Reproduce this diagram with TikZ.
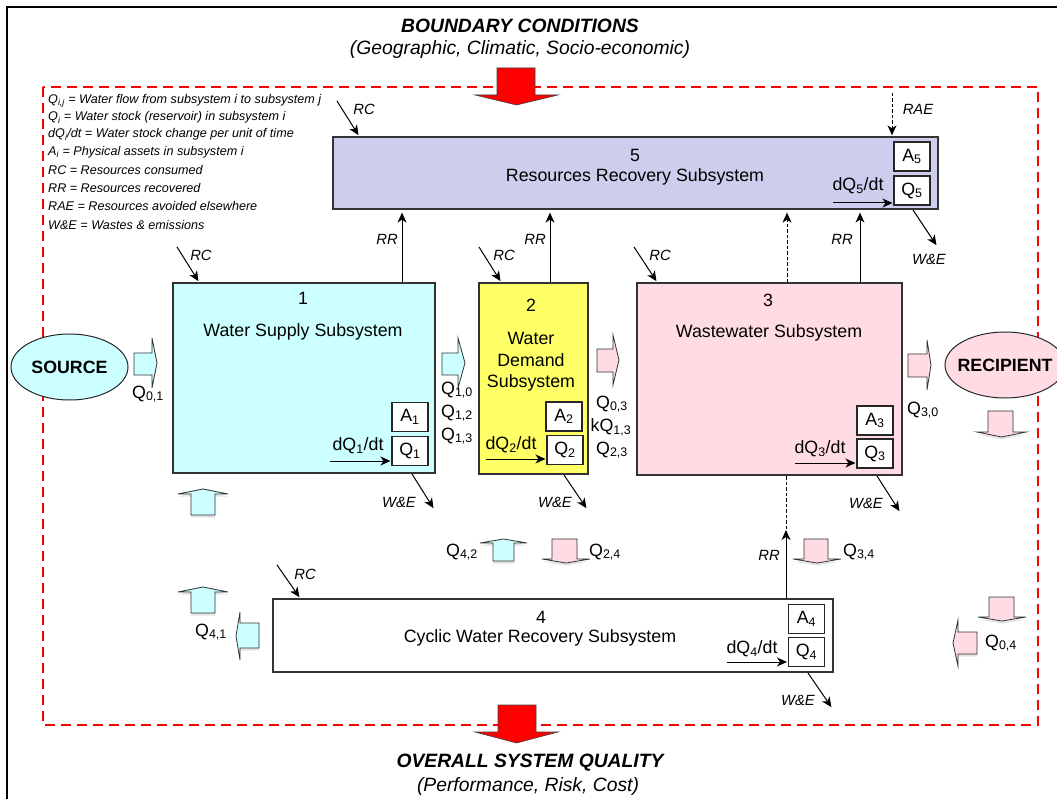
\documentclass[tikz,border=0pt]{standalone}
\usepackage{fontspec}
\setmainfont{Liberation Sans}
\usetikzlibrary{arrows.meta,shapes.geometric,shadows,calc}
\definecolor{cyanf}{HTML}{CCFFFF}
\definecolor{yelf}{HTML}{FFFF66}
\definecolor{pinkf}{HTML}{FFDCE3}
\definecolor{lavf}{HTML}{CDCDEE}
\newcommand\fs[1]{\fontsize{#1}{#1}\selectfont}
\newcommand\sbs[1]{\textsubscript{#1}}
% vertical fat arrow: fill, shaft left, shaft right, head left, head right, y base, y head, y tip
\newcommand\myVert[8]{\filldraw[fat,fill=#1,shad] (#2,#6) -- (#2,#7) -- (#4,#7) -- ({(#4+#5)/2},#8) -- (#5,#7) -- (#3,#7) -- (#3,#6) -- cycle;}
% horizontal fat arrow: fill, shaft top, shaft bottom, head top, head bottom, x base, x head, x tip
\newcommand\myHorz[8]{\filldraw[fat,fill=#1] (#6,#2) -- (#7,#2) -- (#7,#4) -- (#8,{(#4+#5)/2}) -- (#7,#5) -- (#7,#3) -- (#6,#3) -- cycle;}
\newcommand\myHorzS[8]{\filldraw[fat,fill=#1,shad] (#6,#2) -- (#7,#2) -- (#7,#4) -- (#8,{(#4+#5)/2}) -- (#7,#5) -- (#7,#3) -- (#6,#3) -- cycle;}
\begin{document}
\begin{tikzpicture}[x=1pt,y=-1pt,
 box/.style={draw=black!80,line width=1.3pt,inner sep=0pt,rectangle},
 sbox/.style={draw=black!85,line width=1.1pt,fill=white,minimum width=36pt,minimum height=29pt,inner sep=0pt,font=\fs{17.8}},
 txt/.style={inner sep=0pt,font=\fs{17.8}},
 itl/.style={inner sep=0pt,font=\fs{14.8}\itshape},
 leg/.style={inner sep=0pt,anchor=west,font=\fs{12.6}\itshape},
 ttl/.style={inner sep=0pt,font=\fs{19.3}\bfseries\itshape},
 subt/.style={inner sep=0pt,font=\fs{19.3}\itshape},
 arr/.style={-{Stealth[length=10pt,width=9pt,inset=3pt]},line width=1pt,shorten >=1pt},
 dsh/.style={dash pattern=on 3.5pt off 2pt},
 fat/.style={draw=black!80,line width=0.8pt},
 shad/.style={drop shadow={shadow xshift=0pt,shadow yshift=-2.5pt,opacity=0.22}},
 redarr/.style={fill=red,draw=black!75,line width=0.6pt},
]
\useasboundingbox (0,0) rectangle (1057,799);
\fill[white] (0,0) rectangle (1057,799);
\draw[line width=2pt] (7,820) -- (7,7) -- (1080,7);

% titles
\node[ttl] (t1) at (520,26) {BOUNDARY CONDITIONS};
\node[subt] (t2) at (520,50) {(Geographic, Climatic, Socio-economic)};
\node[ttl] (t3) at (530,763) {OVERALL SYSTEM QUALITY};
\node[subt] (t4) at (528,786) {(Performance, Risk, Cost)};

% red dashed boundary
\draw[red,line width=2.4pt,dash pattern=on 10pt off 6pt] (43,87) rectangle (1038,725);

% red arrows
\filldraw[redarr] (497,68) -- (497,95) -- (475,95) -- (516.5,105) -- (558,95) -- (535,95) -- (535,68) -- cycle;
\filldraw[redarr] (498,705) -- (498,732) -- (475,732) -- (516.5,743) -- (558,732) -- (536,732) -- (536,705) -- cycle;

% legend
\node[leg] (l1) at (48,100.5) {Q\sbs{i,j} = Water flow from subsystem i to subsystem j};
\node[leg] (l2) at (48,117.5) {Q\sbs{i} = Water stock (reservoir) in subsystem i};
\node[leg] (l3) at (48,134.5) {dQ\sbs{i}/dt = Water stock change per unit of time};
\node[leg] (l4) at (48,152) {A\sbs{i} = Physical assets in subsystem i};
\node[leg] (l5) at (48,170.5) {RC = Resources consumed};
\node[leg] (l6) at (48,188.5) {RR = Resources recovered};
\node[leg] (l7) at (48,206.5) {RAE = Resources avoided elsewhere};
\node[leg] (l8) at (48,224.5) {W\&E = Wastes \& emissions};

% main boxes
\node[box,fill=lavf,minimum width=605pt,minimum height=72pt] (b5) at (635.5,173) {};
\node[box,fill=cyanf,minimum width=262pt,minimum height=190pt] (b1) at (304,378) {};
\node[box,fill=yelf,minimum width=109pt,minimum height=191pt] (b2) at (533.5,378.5) {};
\node[box,fill=pinkf,minimum width=265pt,minimum height=192pt] (b3) at (769.5,379) {};
\node[box,fill=white,minimum width=560pt,minimum height=73pt] (b4) at (553,635.5) {};

% box texts
\node[txt] (n5) at (635,155) {5};
\node[txt] (n5t) at (635,177) {Resources Recovery Subsystem};
\node[txt] (n1) at (303,298) {1};
\node[txt] (n1t) at (303,332) {Water Supply Subsystem};
\node[txt] (n2) at (531,305) {2};
\node[txt] (n2a) at (531,338) {Water};
\node[txt] (n2b) at (531,360) {Demand};
\node[txt] (n2c) at (531,383) {Subsystem};
\node[txt] (n3) at (768,300) {3};
\node[txt] (n3t) at (769,333) {Wastewater Subsystem};
\node[txt] (n4) at (541,617) {4};
\node[txt] (n4t) at (540,638) {Cyclic Water Recovery Subsystem};

% A and Q boxes
\node[sbox] (a5) at (912,156.5) {A\sbs{5}};
\node[sbox] (q5) at (912,190.5) {Q\sbs{5}};
\node[sbox] (a1) at (410,417) {A\sbs{1}};
\node[sbox] (q1) at (410,451) {Q\sbs{1}};
\node[sbox] (a2) at (564,416.5) {A\sbs{2}};
\node[sbox] (q2) at (565,450) {Q\sbs{2}};
\node[sbox] (a3) at (875,420.5) {A\sbs{3}};
\node[sbox] (q3) at (875,453.5) {Q\sbs{3}};
\node[sbox] (a4) at (806.5,619) {A\sbs{4}};
\node[sbox] (q4) at (806.5,652) {Q\sbs{4}};

% dQ/dt arrows
\node[txt] (d5) at (858,186) {dQ\sbs{5}/dt};
\coordinate (d5s) at (833,203);
\draw[arr] (d5s) -- (d5s -| q5.west);
\node[txt] (d1) at (358,446) {dQ\sbs{1}/dt};
\coordinate (d1s) at (330,461);
\draw[arr] (d1s) -- (d1s -| q1.west);
\node[txt] (d2) at (511,445) {dQ\sbs{2}/dt};
\coordinate (d2s) at (486,459);
\draw[arr] (d2s) -- (d2s -| q2.west);
\node[txt] (d3) at (820,449) {dQ\sbs{3}/dt};
\coordinate (d3s) at (795,463);
\draw[arr] (d3s) -- (d3s -| q3.west);
\node[txt] (d4) at (752,649) {dQ\sbs{4}/dt};
\coordinate (d4s) at (727,662);
\draw[arr] (d4s) -- (d4s -| q4.west);

% vertical connectors to box 5
\coordinate (xr1) at (402,0);
\coordinate (xr2) at (550,0);
\coordinate (xd3) at (787,0);
\coordinate (xr3) at (860,0);
\draw[arr,shorten >=3pt] (b1.north -| xr1) -- (b5.south -| xr1);
\draw[arr,shorten >=3pt] (b2.north -| xr2) -- (b5.south -| xr2);
\draw[arr,dsh,shorten >=3pt] (b3.north -| xd3) -- (b5.south -| xd3);
\draw[arr,shorten >=3pt] (b3.north -| xr3) -- (b5.south -| xr3);
\node[itl] (rr1) at (387,239) {RR};
\node[itl] (rr2) at (535,239) {RR};
\node[itl] (rr3) at (842,239) {RR};

% RAE
\coordinate (rae) at (892,93);
\draw[arr,dsh] (rae) -- (rae |- b5.north);
\node[itl] (raet) at (918,109) {RAE};

% RR from box 4
\coordinate (x4) at (786,0);
\coordinate (rr4e) at (786,529);
\draw[arr] (b4.north -| x4) -- (rr4e);
\draw[dsh,line width=1pt] (rr4e) -- (b3.south -| x4);
\node[itl] (rr4) at (769,555) {RR};

% RC arrows
\coordinate (rc5s) at (337,101); \coordinate (rc5e) at (359,136);
\draw[arr] (rc5s) -- (rc5e); \node[itl] (rc5) at (364,109) {RC};
\coordinate (rc1s) at (177,247); \coordinate (rc1e) at (199,282);
\draw[arr] (rc1s) -- (rc1e); \node[itl] (rc1) at (201,255) {RC};
\coordinate (rc2s) at (479,247); \coordinate (rc2e) at (501,282);
\draw[arr] (rc2s) -- (rc2e); \node[itl] (rc2) at (504,255) {RC};
\coordinate (rc3s) at (634,247); \coordinate (rc3e) at (657,282);
\draw[arr] (rc3s) -- (rc3e); \node[itl] (rc3) at (660,255) {RC};
\coordinate (rc4s) at (277,565); \coordinate (rc4e) at (300,598);
\draw[arr] (rc4s) -- (rc4e); \node[itl] (rc4) at (305,574) {RC};

% W&E arrows
\coordinate (w5s) at (913,210); \coordinate (w5e) at (937,246);
\draw[arr] (w5s) -- (w5e); \node[itl] (w5) at (929,259) {W\&E};
\coordinate (w1s) at (412,474); \coordinate (w1e) at (434,509);
\draw[arr] (w1s) -- (w1e); \node[itl] (w1) at (399,502) {W\&E};
\coordinate (w2s) at (564,475); \coordinate (w2e) at (587,509);
\draw[arr] (w2s) -- (w2e); \node[itl] (w2) at (555,502) {W\&E};
\coordinate (w3s) at (877,476); \coordinate (w3e) at (900,512);
\draw[arr] (w3s) -- (w3e); \node[itl] (w3) at (866,503) {W\&E};
\coordinate (w4s) at (808,673); \coordinate (w4e) at (832,708);
\draw[arr] (w4s) -- (w4e); \node[itl] (w4) at (798,700) {W\&E};

% source and recipient
\node[ellipse,draw=black!85,line width=1pt,fill=cyanf,minimum width=117pt,minimum height=66pt,inner sep=0pt] (src) at (69.5,367) {};
\node[txt,font=\fs{17.8}\bfseries] (srct) at (src.center) {SOURCE};
\node[ellipse,draw=black!85,line width=1pt,fill=pinkf,minimum width=120pt,minimum height=66pt,inner sep=0pt] (rec) at (1005,365) {};
\node[txt,font=\fs{17.8}\bfseries] (rect) at (rec.center) {RECIPIENT};

% horizontal fat arrows
\myHorz{cyanf}{353}{375}{338}{388}{134}{152}{157}
\myHorz{cyanf}{353}{375}{338}{388}{442}{458}{465}
\myHorz{pinkf}{349}{372}{335}{385}{597}{613}{619}
\myHorz{pinkf}{354}{377}{340}{390}{908}{927}{931}
\myHorzS{cyanf}{623}{648}{612}{660}{259}{240}{236}
\myHorzS{pinkf}{632}{654}{620}{666}{977}{958}{953}

% vertical fat arrows
\myVert{cyanf}{191}{215}{178}{228}{515}{494}{489}
\myVert{cyanf}{191}{215}{178}{228}{613}{592}{587}
\myVert{cyanf}{493}{514}{480}{527}{561}{543}{539}
\myVert{pinkf}{552}{577}{542}{590}{539}{559}{563}
\myVert{pinkf}{804}{828}{793}{841}{539}{559}{563}
\myVert{pinkf}{988}{1013}{977}{1026}{411}{432}{437}
\myVert{pinkf}{989}{1014}{978}{1026}{597}{617}{621}

% flow labels
\node[txt] (q01) at (148,394) {Q\sbs{0,1}};
\node[txt] (q10) at (457,390) {Q\sbs{1,0}};
\node[txt] (q12) at (457,413) {Q\sbs{1,2}};
\node[txt] (q13) at (457,436) {Q\sbs{1,3}};
\node[txt] (q03) at (612,404) {Q\sbs{0,3}};
\node[txt] (kq13) at (611,427) {kQ\sbs{1,3}};
\node[txt] (q23) at (612,450) {Q\sbs{2,3}};
\node[txt] (q30) at (923,410) {Q\sbs{3,0}};
\node[txt] (q41) at (211,632) {Q\sbs{4,1}};
\node[txt] (q42) at (462,552) {Q\sbs{4,2}};
\node[txt] (q24) at (605,552) {Q\sbs{2,4}};
\node[txt] (q34) at (859,552) {Q\sbs{3,4}};
\node[txt] (q04) at (1001,643) {Q\sbs{0,4}};
\end{tikzpicture}
\end{document}
